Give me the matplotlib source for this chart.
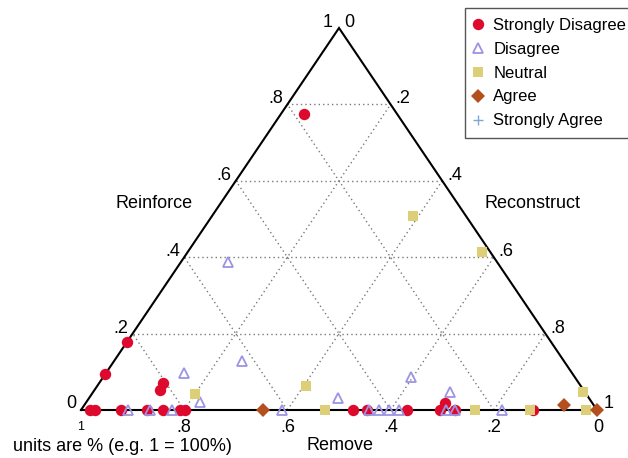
import matplotlib
matplotlib.use('Agg')
import matplotlib.pyplot as plt
from matplotlib.lines import Line2D
import numpy as np

plt.rcParams['font.family'] = ['Liberation Sans', 'DejaVu Sans']

# ---------------- data (fractions; remove = 1 - reinforce - reconstruct) -------------
categories = ['Strongly Disagree', 'Disagree', 'Neutral', 'Agree', 'Strongly Agree']

sd_reinforce   = [0.775, 0.178, 0.094, 0.071, 0.052, 0, 0, 0, 0, 0, 0, 0, 0, 0, 0, 0, 0.019, 0, 0]
sd_reconstruct = [0.045, 0.0, 0.0, 0.123, 0.128, 0.017, 0.028, 0.078, 0.128, 0.159, 0.191, 0.201,
                  0.528, 0.554, 0.631, 0.696, 0.696, 0.725, 0.875]

d_reinforce   = [0.388, 0.129, 0.098, 0.022, 0, 0, 0, 0, 0.031, 0.087, 0, 0, 0, 0, 0.048, 0, 0, 0]
d_reconstruct = [0.091, 0.247, 0.151, 0.219, 0.091, 0.133, 0.177, 0.389, 0.483, 0.597,
                 0.559, 0.578, 0.597, 0.617, 0.691, 0.707, 0.725, 0.815]

n_reinforce   = [0.508, 0.414, 0.041, 0.063, 0, 0, 0, 0.046, 0]
n_reconstruct = [0.390, 0.571, 0.200, 0.405, 0.473, 0.764, 0.870, 0.950, 0.979]

a_reinforce   = [0, 0.013, 0]
a_reconstruct = [0.352, 0.929, 1.0]

sa_reinforce   = []
sa_reconstruct = []

grid_levels = [0.2, 0.4, 0.6, 0.8]
edge_tick_labels = ['.2', '.4', '.6', '.8']

# ---------------- figure ----------------
W, H = 628, 458
fig = plt.figure(figsize=(W / 100, H / 100), dpi=100)
# triangle: bottom-left (81,410), bottom-right (597,410), top (339,28) in pixels
x0, x1, ytop, ybot = 81, 597, 28, 410
ax = fig.add_axes([x0 / W, 1 - ybot / H, (x1 - x0) / W, (ybot - ytop) / H])
ax.set_xlim(0, 1)
ax.set_ylim(0, 1)
ax.axis('off')


def tern(r, c):
    r = np.asarray(r, float)
    c = np.asarray(c, float)
    return c + 0.5 * r, r


# grid lines (dotted)
gkw = dict(color='#7a7a7a', linestyle=(0, (1, 2.2)), linewidth=1.0, zorder=1)
for g in grid_levels:
    # constant reinforce
    xa, ya = tern([g, g], [0, 1 - g])
    ax.plot(xa, ya, **gkw)
    # constant reconstruct
    xa, ya = tern([0, 1 - g], [g, g])
    ax.plot(xa, ya, **gkw)
    # constant remove (m = g): r + c = 1 - g
    xa, ya = tern([0, 1 - g], [1 - g, 0])
    ax.plot(xa, ya, **gkw)

# triangle outline
xa, ya = tern([0, 0, 1, 0], [0, 1, 0, 0])
ax.plot(xa, ya, color='black', linewidth=1.5, zorder=2, clip_on=False, solid_joinstyle='miter')

# tick labels
fs = 13
for g, lab in zip(grid_levels, edge_tick_labels):
    # left edge: reinforce
    px, py = tern(g, 0)
    ax.annotate(lab, (px, py), xytext=(-4, 1), textcoords='offset pixels',
                ha='right', va='baseline', fontsize=fs)
    # right edge: reconstruct
    px, py = tern(1 - g, g)
    ax.annotate(lab, (px, py), xytext=(5, 1), textcoords='offset pixels',
                ha='left', va='baseline', fontsize=fs)
    # bottom edge: remove (value g at position c = 1-g)
    px, py = tern(0, 1 - g)
    ax.annotate(lab, (px, py), xytext=(0, -9), textcoords='offset pixels',
                ha='center', va='top', fontsize=fs)

# end labels
px, py = tern(0, 0)
ax.annotate('0', (px, py), xytext=(-5, 2), textcoords='offset pixels', ha='right', va='baseline', fontsize=fs)
ax.annotate('1', (px, py), xytext=(0, -11), textcoords='offset pixels', ha='center', va='top', fontsize=9)
px, py = tern(1, 0)
ax.annotate('1', (px, py), xytext=(-6, 1), textcoords='offset pixels', ha='right', va='baseline', fontsize=fs)
ax.annotate('0', (px, py), xytext=(5, 1), textcoords='offset pixels', ha='left', va='baseline', fontsize=fs)
px, py = tern(0, 1)
ax.annotate('1', (px, py), xytext=(7, 2), textcoords='offset pixels', ha='left', va='baseline', fontsize=fs)
ax.annotate('0', (px, py), xytext=(1, -9), textcoords='offset pixels', ha='center', va='top', fontsize=fs)

# axis titles
fig.text(154 / W, 1 - 208 / H, 'Reinforce', ha='center', va='baseline', fontsize=fs)
fig.text(532 / W, 1 - 208 / H, 'Reconstruct', ha='center', va='baseline', fontsize=fs)
fig.text(340 / W, 1 - 450 / H, 'Remove', ha='center', va='baseline', fontsize=fs)
fig.text(13 / W, 1 - 451 / H, 'units are % (e.g. 1 = 100%)', ha='left', va='baseline', fontsize=fs)

# data markers
red = '#DD0A2E'
lav = '#9C94E2'
kha = '#DCCF78'
brn = '#B4501E'
blu = '#7FA9CF'

styles = [
    dict(marker='o', color=red, markersize=8.2, markeredgewidth=0, linestyle='none'),
    dict(marker='^', markerfacecolor='none', markeredgecolor=lav, markersize=7.8, markeredgewidth=1.3, linestyle='none'),
    dict(marker='s', color=kha, markersize=6.8, markeredgewidth=0, linestyle='none'),
    dict(marker='D', color=brn, markersize=7.2, markeredgewidth=0, linestyle='none'),
    dict(marker='+', color=blu, markersize=6.5, markeredgewidth=1.0, linestyle='none'),
]
series = [
    (sd_reinforce, sd_reconstruct),
    (d_reinforce, d_reconstruct),
    (n_reinforce, n_reconstruct),
    (a_reinforce, a_reconstruct),
    (sa_reinforce, sa_reconstruct),
]
handles = []
for i, ((r, c), st, name) in enumerate(zip(series, styles, categories)):
    xa, ya = tern(r, c)
    ax.plot(xa, ya, clip_on=False, zorder=3 + i, **st)
    handles.append(Line2D([], [], label=name, **st))

leg = fig.legend(handles=handles, loc='upper left', bbox_to_anchor=(465 / W, 1 - 8 / H),
                 bbox_transform=fig.transFigure, borderaxespad=0, fancybox=False,
                 edgecolor='#555555', framealpha=1, fontsize=12, labelspacing=0.53,
                 handlelength=0.3, handletextpad=0.8, borderpad=0.6, frameon=True)
leg.get_frame().set_linewidth(1.0)

fig.savefig('out.png', dpi=100)
